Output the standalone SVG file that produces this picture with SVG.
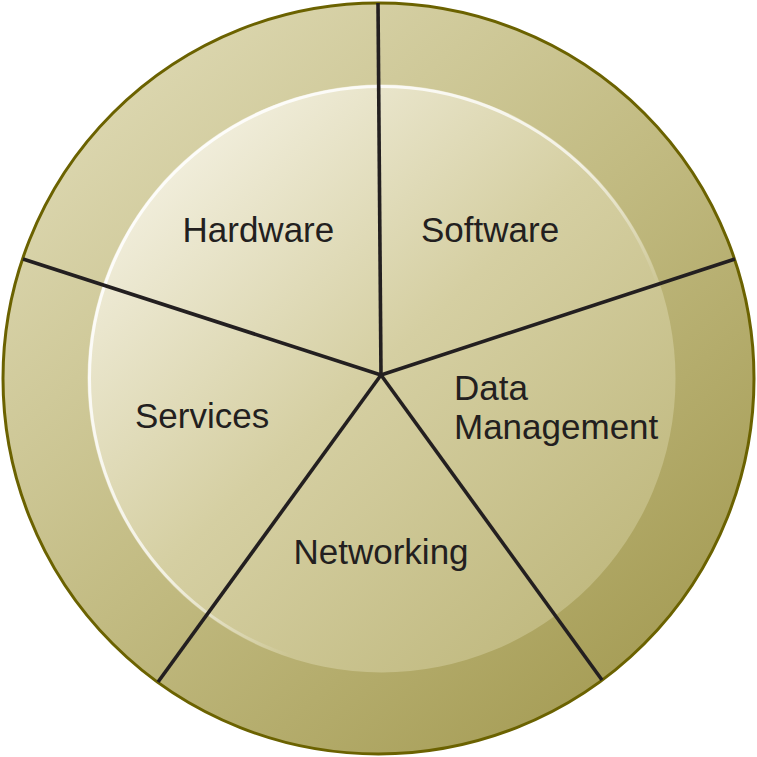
<svg xmlns="http://www.w3.org/2000/svg" width="757" height="757" viewBox="0 0 757 757">
  <defs>
    <linearGradient id="ringGrad" x1="0.15" y1="0.1" x2="0.85" y2="0.9">
      <stop offset="0" stop-color="#dcd7b0"/>
      <stop offset="0.5" stop-color="#c2bb82"/>
      <stop offset="1" stop-color="#a69d56"/>
    </linearGradient>
    <linearGradient id="discGrad" x1="0.1" y1="0.1" x2="0.85" y2="0.9">
      <stop offset="0" stop-color="#f4f1e2"/>
      <stop offset="0.5" stop-color="#d5cfa2"/>
      <stop offset="1" stop-color="#c0b97f"/>
    </linearGradient>
    <linearGradient id="rimGrad" x1="0.1" y1="0.1" x2="0.8" y2="0.8">
      <stop offset="0" stop-color="#ffffff" stop-opacity="0.9"/>
      <stop offset="0.55" stop-color="#ffffff" stop-opacity="0.7"/>
      <stop offset="0.8" stop-color="#ffffff" stop-opacity="0"/>
    </linearGradient>
    <style>
      .spoke { stroke: #231f20; stroke-width: 3.6; fill: none; stroke-linecap: butt; }
      .label { font-family: "Liberation Sans", Arial, sans-serif; font-size: 35px; fill: #231f20; }
    </style>
  </defs>
  <g id="outer-ring">
    <circle cx="378.5" cy="378.5" r="375.5" fill="url(#ringGrad)" stroke="#6b6200" stroke-width="3"/>
  </g>
  <g id="inner-disc">
    <circle cx="381.5" cy="378.5" r="294" fill="url(#discGrad)"/>
    <circle cx="381.5" cy="378.5" r="292" fill="none" stroke="url(#rimGrad)" stroke-width="3"/>
  </g>
  <g id="connectors">
    <line class="spoke" x1="381" y1="375" x2="378" y2="3"/>
    <line class="spoke" x1="381" y1="375" x2="23" y2="259"/>
    <line class="spoke" x1="381" y1="375" x2="735" y2="259"/>
    <line class="spoke" x1="381" y1="375" x2="158" y2="682"/>
    <line class="spoke" x1="381" y1="375" x2="602" y2="680"/>
  </g>
  <g id="hardware"><text class="label" x="182.5" y="241.5">Hardware</text></g>
  <g id="software"><text class="label" x="421" y="241.5">Software</text></g>
  <g id="data-management"><text class="label" x="454" y="400">Data</text><text class="label" x="454" y="439">Management</text></g>
  <g id="services"><text class="label" x="135" y="428">Services</text></g>
  <g id="networking"><text class="label" x="293.5" y="564">Networking</text></g>
</svg>
